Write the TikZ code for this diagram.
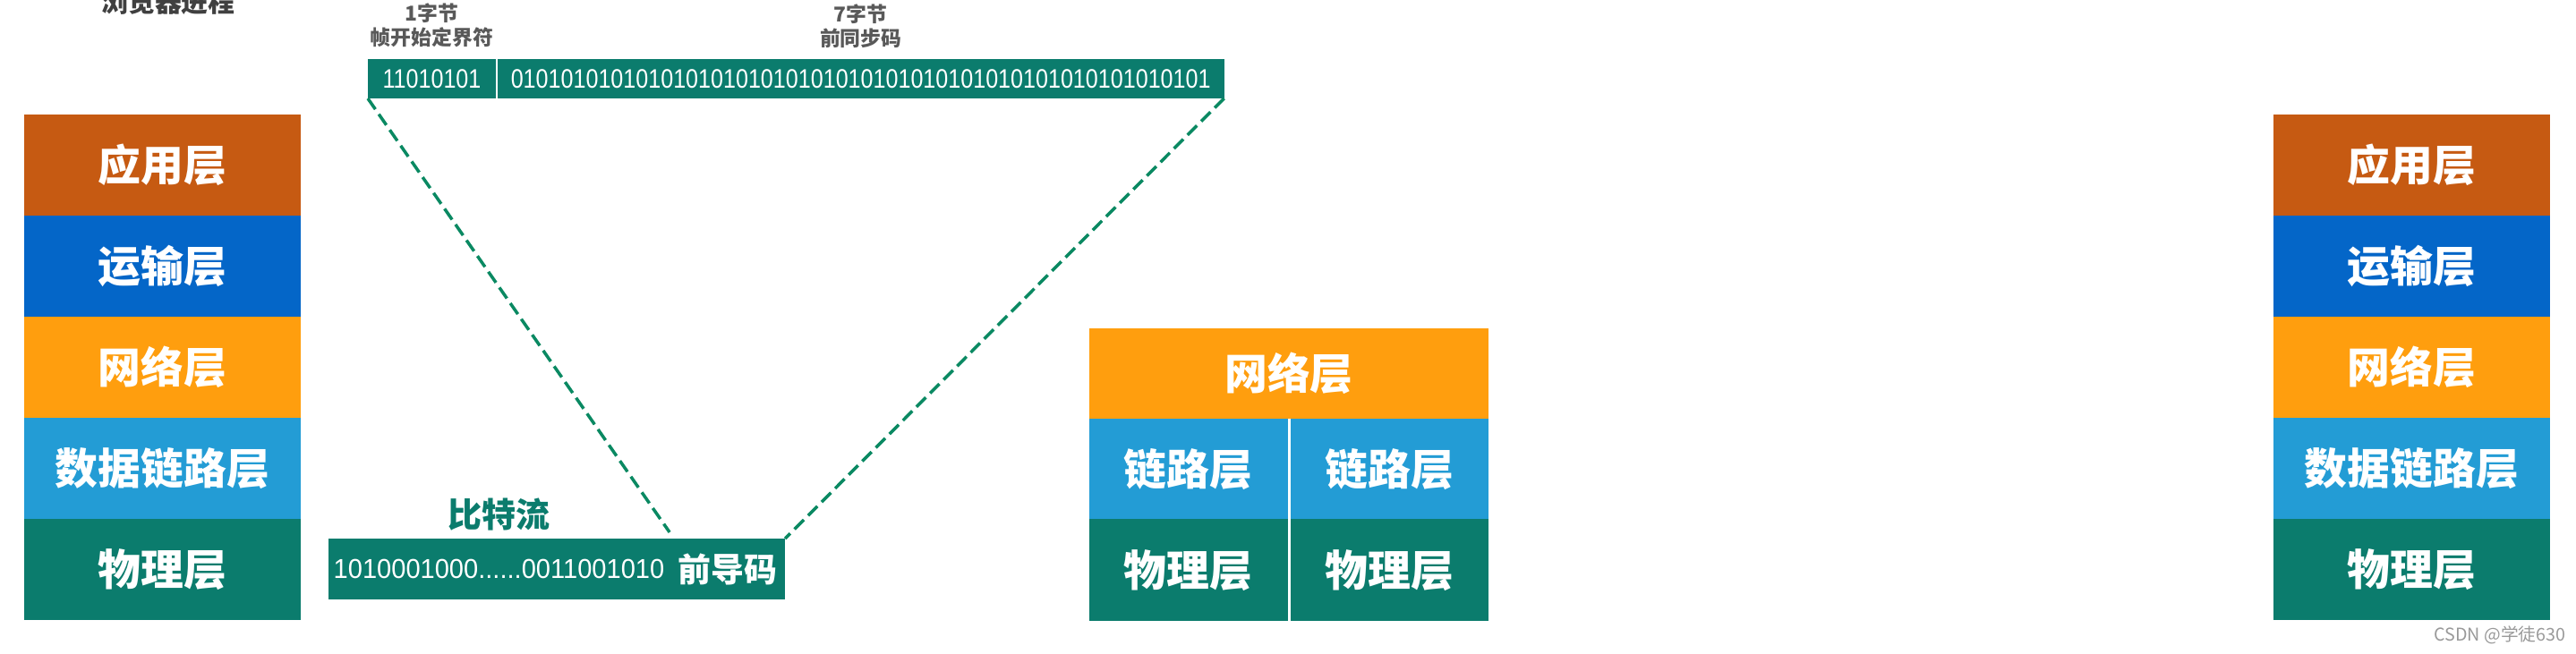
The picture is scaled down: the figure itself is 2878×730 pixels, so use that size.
\documentclass[tikz,border=0pt]{standalone}
\usepackage{fontspec}
\setmainfont{Noto Sans CJK SC}
\newfontfamily\bitsfont[FakeStretch=0.84]{Liberation Sans}
\newfontfamily\streamfont[FakeStretch=0.95]{Liberation Sans}
\usepackage{xcolor}
\usepackage{tikz}
\usetikzlibrary{positioning}

\definecolor{appcol}{HTML}{C65A12}
\definecolor{transcol}{HTML}{0466C8}
\definecolor{netcol}{HTML}{FF9E0E}
\definecolor{linkcol}{HTML}{239CD5}
\definecolor{physcol}{HTML}{0B7C6D}
\definecolor{labelgray}{HTML}{595959}

\begin{document}
\begin{tikzpicture}[
        x=0.01cm, y=-0.01cm,
        layer/.style={rectangle, inner sep=0pt, outer sep=0pt, minimum width=3.09cm, minimum height=1.13cm, text=white, font=\fontsize{13.6}{16}\selectfont\bfseries},
        app/.style={layer, fill=appcol},
        trans/.style={layer, fill=transcol},
        net/.style={layer, fill=netcol},
        link/.style={layer, fill=linkcol},
        phys/.style={layer, fill=physcol},
        bar/.style={rectangle, fill=physcol, inner sep=0pt, outer sep=0pt, text=white},
        bytelabel/.style={align=center, inner sep=0pt, text=labelgray, font=\fontsize{6.5}{7.7}\selectfont\bfseries},
        guide/.style={draw=physcol!90!green, line width=1pt, dash pattern=on 4.2pt off 1.9pt}
    ]
        \useasboundingbox (0,0) rectangle (2878,730);

        % Cut-off title
        \node [inner sep=0pt, anchor=base, text=black!75, font=\fontsize{8.5}{10}\selectfont\bfseries] (proc) at (188,13) {浏览器进程};

        % Left stack
        \node [app] (lapp) at (181.5,184.5) {应用层};
        \node [trans, below=0pt of lapp] (ltrans) {运输层};
        \node [net, below=0pt of ltrans] (lnet) {网络层};
        \node [link, below=0pt of lnet] (llink) {数据链路层};
        \node [phys, below=0pt of llink] (lphys) {物理层};

        % Right stack
        \node [app] (rapp) at (2694.5,184.5) {应用层};
        \node [trans, below=0pt of rapp] (rtrans) {运输层};
        \node [net, below=0pt of rtrans] (rnet) {网络层};
        \node [link, below=0pt of rnet] (rlink) {数据链路层};
        \node [phys, below=0pt of rlink] (rphys) {物理层};

        % Router in the middle
        \node [net, minimum width=4.46cm, minimum height=1.01cm] (mnet) at (1440,417.5) {网络层};
        \node [link, anchor=north west, minimum width=2.215cm, minimum height=1.12cm] (mlinka) at (mnet.south west) {链路层};
        \node [link, anchor=north east, minimum width=2.215cm, minimum height=1.12cm] (mlinkb) at (mnet.south east) {链路层};
        \node [phys, below=0pt of mlinka, minimum width=2.215cm, minimum height=1.14cm] (mphysa) {物理层};
        \node [phys, below=0pt of mlinkb, minimum width=2.215cm, minimum height=1.14cm] (mphysb) {物理层};

        % Frame start
        \node [bar, minimum width=1.43cm, minimum height=0.44cm, font=\bitsfont\fontsize{8.5}{10}\selectfont] (sfd) at (482.5,88) {11010101};
        \node [bar, right=0.02cm of sfd, minimum width=8.11cm, minimum height=0.44cm, font=\bitsfont\fontsize{8.5}{10}\selectfont] (preamble) {01010101010101010101010101010101010101010101010101010101};
        \node [bytelabel, above=0.12cm of sfd] (sfdlabel) {1字节\\帧开始定界符};
        \node [bytelabel, above=0.12cm of preamble] (prelabel) {7字节\\前同步码};

        % Bit stream
        \node [bar, minimum width=3.81cm, minimum height=0.68cm, font=\streamfont\fontsize{8.7}{10}\selectfont] (stream) at (557.5,636) {1010001000......0011001010};
        \node [bar, right=0pt of stream, minimum width=1.29cm, minimum height=0.68cm, font=\fontsize{10.5}{12}\selectfont\bfseries] (pre) {前导码};
        \node [inner sep=0pt, above=0.08cm of stream, text=physcol, font=\fontsize{10.8}{12}\selectfont\bfseries] (bits) {比特流};

        % Dashed guides
        \draw [guide] (sfd.south west) -- ([yshift=2pt]pre.north west);
        \draw [guide] (preamble.south east) -- (pre.north east);

        % Watermark
        \node [inner sep=0pt, text=black!40, font=\fontsize{5.6}{7}\selectfont] (wmark) at (2793,710) {CSDN @学徒630};

    \end{tikzpicture}
\end{document}
